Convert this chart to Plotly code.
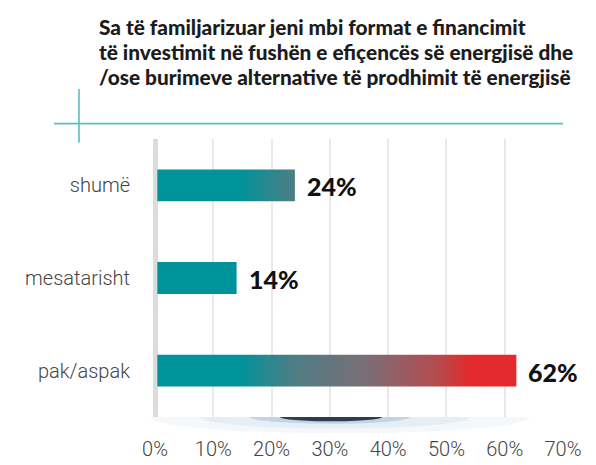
import plotly.graph_objects as go

# ---- data ----
title_lines = [
    "Sa të familjarizuar jeni mbi format e financimit",
    "të investimit në fushën e efiçencës së energjisë dhe",
    "/ose burimeve alternative të prodhimit të energjisë",
]
categories = ["shumë", "mesatarisht", "pak/aspak"]
values = [24, 14, 62]
x_ticks = [0, 10, 20, 30, 40, 50, 60, 70]
x_tick_labels = ["0%", "10%", "20%", "30%", "40%", "50%", "60%", "70%"]

# ---- layout geometry (pixels, page has an 8px body margin) ----
OFF = 8
W, H = 596, 465
L, R, T, B = 155 - OFF, 33 + OFF, 139 - OFF, 37 + OFF
pw, ph = W - L - R, H - T - B

COND = "Lato, Liberation Sans, sans-serif"


def px_x(p):
    return (p - OFF - L) / pw


def px_y(p):
    return (H - B - (p - OFF)) / ph


def half_ellipse(x0, x1, yc, depth):
    cx, rx = (x0 + x1) / 2, (x1 - x0) / 2
    k = 0.552
    pts = [
        (cx - rx, yc), (cx - rx, yc + k * depth), (cx - k * rx, yc + depth), (cx, yc + depth),
        (cx + k * rx, yc + depth), (cx + rx, yc + k * depth), (cx + rx, yc),
    ]
    P = [(px_x(a), px_y(b)) for a, b in pts]
    s = f"M {P[0][0]},{P[0][1]} C {P[1][0]},{P[1][1]} {P[2][0]},{P[2][1]} {P[3][0]},{P[3][1]} "
    s += f"C {P[4][0]},{P[4][1]} {P[5][0]},{P[5][1]} {P[6][0]},{P[6][1]} Z"
    return s


vmax = max(values)
gradient = [
    [0.0, "#00939b"],
    [14.6 / vmax, "#00939b"],
    [24 / vmax, "#4f7d85"],
    [36 / vmax, "#7a6e76"],
    [48 / vmax, "#b24d51"],
    [54 / vmax, "#e32a2c"],
    [1.0, "#e32a2c"],
]

half = 0.172
fig = go.Figure()
for i, (cat, v) in enumerate(zip(categories, values)):
    fig.add_trace(go.Scatter(
        x=[0.4, v, v, 0.4, 0.4],
        y=[i - half, i - half, i + half, i + half, i - half],
        mode="lines", line=dict(width=0),
        fill="toself",
        fillgradient=dict(type="horizontal", colorscale=gradient, start=0, stop=vmax),
        hoverinfo="skip", showlegend=False,
    ))
    fig.add_annotation(
        x=v, y=i, xref="x", yref="y", text=f"{v}%", showarrow=False,
        xanchor="left", yanchor="middle", xshift=10, yshift=-1,
        font=dict(family=COND, size=25, color="#111111", weight=900),
    )

# title
title_y = [22, 48, 74]
for line, yy in zip(title_lines, title_y):
    fig.add_annotation(
        x=px_x(97), y=px_y(yy), xref="paper", yref="paper", text=line,
        showarrow=False, xanchor="left", yanchor="middle",
        font=dict(family=COND, size=20.8, color="#1c1c1c", weight=900),
    )

shapes = [
    # decorative teal cross lines
    dict(type="line", xref="paper", yref="paper", x0=px_x(54), x1=px_x(563),
         y0=px_y(123), y1=px_y(123), line=dict(color="#5bbdc1", width=1.6)),
    dict(type="line", xref="paper", yref="paper", x0=px_x(79), x1=px_x(79),
         y0=px_y(87), y1=px_y(143), line=dict(color="#5bbdc1", width=1.6)),
    # soft glow under the axis
    dict(type="path", xref="paper", yref="paper", path=half_ellipse(150, 530, 428, 17),
         fillcolor="#eef3f8", opacity=0.6, line=dict(width=0)),
    dict(type="path", xref="paper", yref="paper", path=half_ellipse(200, 470, 428, 12),
         fillcolor="#dbe6f1", opacity=0.6, line=dict(width=0)),
    dict(type="path", xref="paper", yref="paper", path=half_ellipse(250, 410, 428, 7),
         fillcolor="#a9bcd0", opacity=0.55, line=dict(width=0)),
    # dark shadow
    dict(type="path", xref="paper", yref="paper", path=half_ellipse(280, 382, 428, 4.5),
         fillcolor="#1d2b42", opacity=0.9, line=dict(width=0)),
]

fig.update_layout(
    width=W, height=H,
    margin=dict(l=L, r=R, t=T, b=B, pad=0),
    paper_bgcolor="white", plot_bgcolor="white",
    shapes=shapes,
    xaxis=dict(
        range=[0, 70], tickvals=x_ticks, ticktext=x_tick_labels,
        showgrid=True, gridcolor="#e9e9e9", gridwidth=1.5,
        zeroline=True, zerolinecolor="#dcdcdc", zerolinewidth=5,
        showline=False, ticks="outside", ticklen=14, tickcolor="rgba(0,0,0,0)",
        tickfont=dict(family="Roboto", size=20, color="#444444", weight=300),
        fixedrange=True,
    ),
    yaxis=dict(
        range=[2.5, -0.5], tickvals=list(range(len(categories))), ticktext=categories,
        showgrid=False, zeroline=False, showline=False, ticks="",
        ticklabelstandoff=24,
        tickfont=dict(family="Roboto", size=20, color="#444444", weight=300),
        fixedrange=True,
    ),
)

fig.write_html("out.html")
